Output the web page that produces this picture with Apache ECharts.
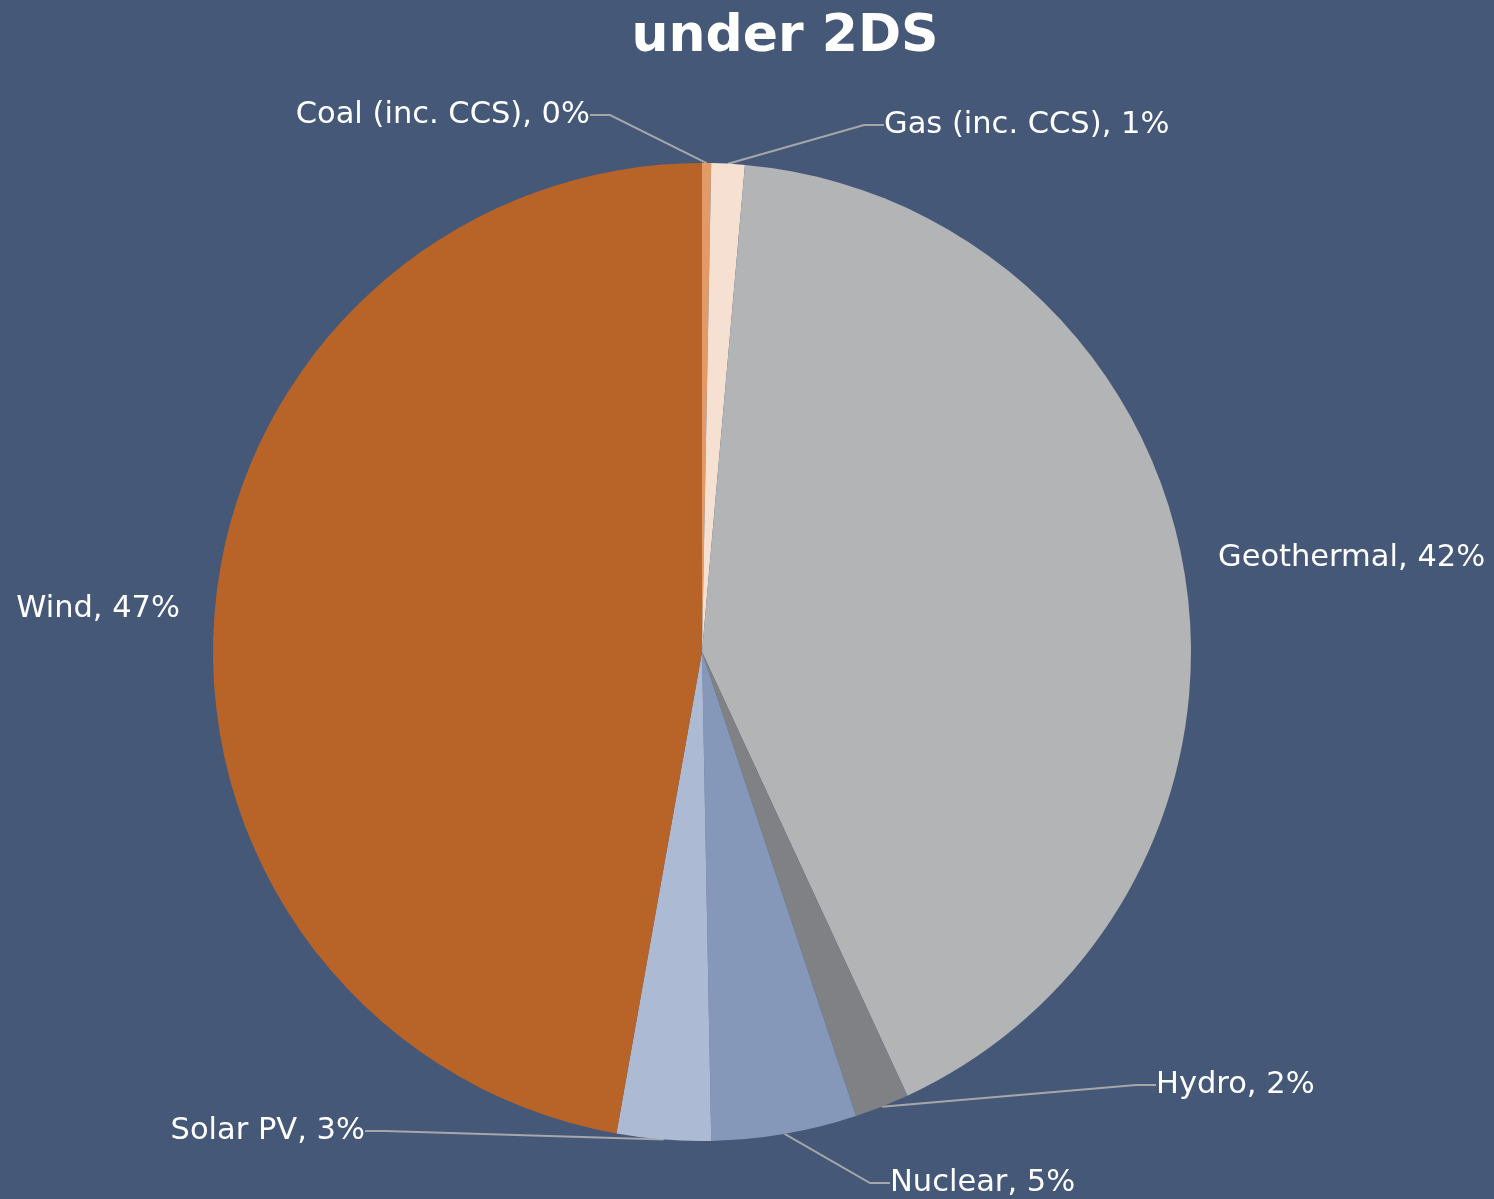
<!DOCTYPE html>
<html>
<head>
<meta charset="utf-8">
<title>under 2DS</title>
<script src="https://cdn.jsdelivr.net/npm/echarts@6/dist/echarts.min.js"></script>
<style>
  html, body { margin: 0; padding: 0; background: #455877; }
  #chart { width: 1494px; height: 1199px; }
</style>
</head>
<body>
<div id="chart"></div>
<script>
// share of generation (percent)
var categories = ['Coal (inc. CCS)', 'Gas (inc. CCS)', 'Geothermal', 'Hydro', 'Nuclear', 'Solar PV', 'Wind']
var shares = [0.3, 1.1, 41.7, 1.8, 4.8, 3.1, 47.2]
var colors = ['#e29a66', '#f6e0d2', '#b3b4b6', '#808184', '#8598ba', '#adbad4', '#b86428']

// where each label sits (text anchor), and whether it gets a leader line
var labelSpots = [
  { x: 590, y: 115, align: 'right', line: true },
  { x: 884, y: 125, align: 'left', line: true },
  { x: 1218, y: 558, align: 'left', line: false },
  { x: 1156, y: 1085, align: 'left', line: true },
  { x: 890, y: 1183, align: 'left', line: true },
  { x: 365, y: 1131, align: 'right', line: true },
  { x: 180, y: 609, align: 'right', line: false }
]

var labelFont = 'DejaVu Sans'

var chart = echarts.init(document.getElementById('chart'))
chart.setOption({
  backgroundColor: '#455877',
  animation: false,
  title: {
    text: 'under 2DS',
    left: 780,
    top: 6,
    textAlign: 'center',
    textStyle: {
      color: '#ffffff',
      fontSize: 52,
      fontWeight: 'bold',
      fontFamily: labelFont
    }
  },
  series: [{
    type: 'pie',
    center: [702, 652],
    radius: 489,
    startAngle: 90,
    clockwise: true,
    avoidLabelOverlap: false,
    data: categories.map(function (name, i) {
      return {
        name: name,
        value: shares[i],
        itemStyle: { color: colors[i] },
        labelLine: { show: labelSpots[i].line }
      }
    }),
    label: {
      show: true,
      color: '#ffffff',
      fontSize: 30.5,
      fontFamily: labelFont,
      formatter: function (p) {
        return p.name + ', ' + Math.round(p.percent) + '%'
      }
    },
    labelLine: {
      show: true,
      length: 20,
      length2: 20,
      lineStyle: { color: '#a5a7aa', width: 2 }
    },
    labelLayout: function (p) {
      var s = labelSpots[p.dataIndex]
      return {
        x: s.x,
        y: s.y,
        align: s.align,
        verticalAlign: 'middle'
      }
    }
  }]
})
</script>
</body>
</html>
